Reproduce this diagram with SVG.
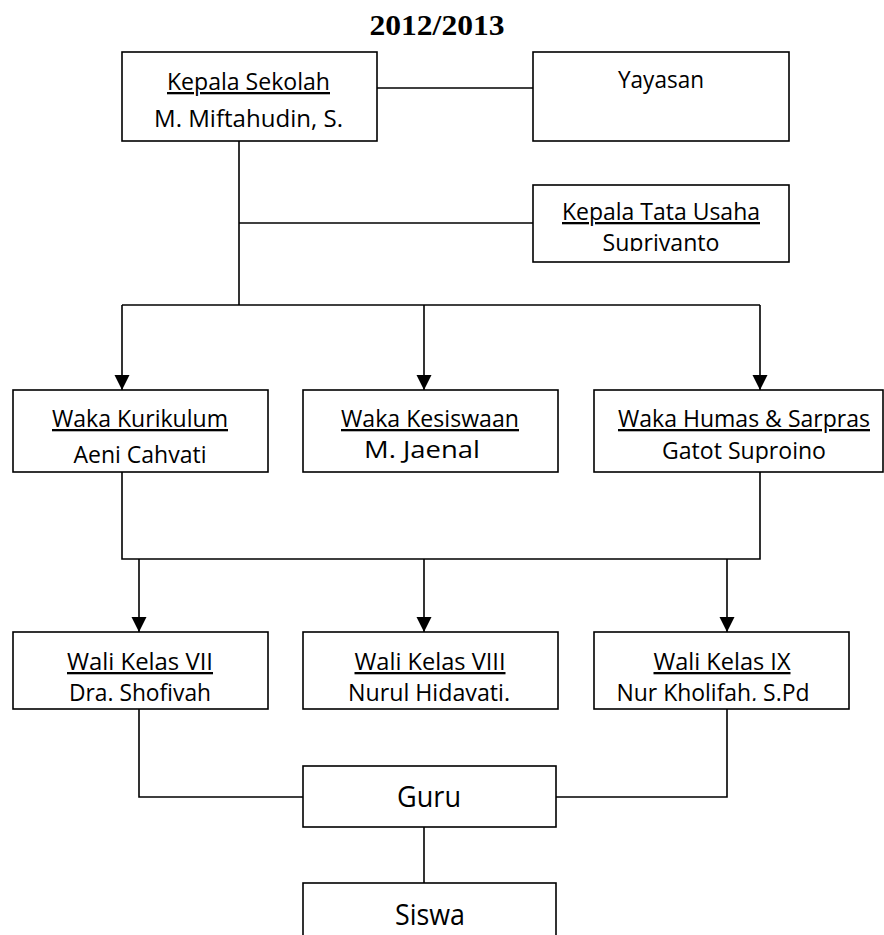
<svg xmlns="http://www.w3.org/2000/svg" width="884" height="935" viewBox="0 0 884 935">
<style>
.box{fill:#fff;stroke:#000;stroke-width:1.6}
.ln{fill:none;stroke:#000;stroke-width:1.6}
.t{font-family:"Open Sans","Liberation Sans",sans-serif;font-size:23px;fill:#000;text-anchor:middle}
.u{text-decoration:underline}
.big{font-size:29px}
.title{font-family:"Liberation Serif",serif;font-weight:bold;font-size:30px;text-anchor:middle}
</style>
<defs>
<marker id="ah" markerUnits="userSpaceOnUse" markerWidth="16" markerHeight="16" refX="15" refY="7.5" orient="auto">
<path d="M0,0 L15,7.5 L0,15 Z" fill="#000"/>
</marker>
<clipPath id="cTU"><rect x="533" y="185" width="256" height="66"/></clipPath>
<clipPath id="cW1"><rect x="13" y="390" width="255" height="73"/></clipPath>
<clipPath id="cW3"><rect x="594" y="390" width="290" height="73"/></clipPath>
<clipPath id="cL"><rect x="0" y="632" width="884" height="69"/></clipPath>
</defs>
<text class="title" x="437" y="35" textLength="135" lengthAdjust="spacingAndGlyphs">2012/2013</text>
<g id="connectors">
<path class="ln" d="M377,88 H533"/>
<path class="ln" d="M239,141 V305"/>
<path class="ln" d="M239,223 H533"/>
<path class="ln" d="M122,305 H760"/>
<path class="ln" d="M122,305 V390" marker-end="url(#ah)"/>
<path class="ln" d="M424,305 V390" marker-end="url(#ah)"/>
<path class="ln" d="M760,305 V390" marker-end="url(#ah)"/>
<path class="ln" d="M122,472 V559 H760 V472"/>
<path class="ln" d="M139,559 V632" marker-end="url(#ah)"/>
<path class="ln" d="M424,559 V632" marker-end="url(#ah)"/>
<path class="ln" d="M727,559 V632" marker-end="url(#ah)"/>
<path class="ln" d="M139,709 V797 H303"/>
<path class="ln" d="M727,709 V797 H556"/>
<path class="ln" d="M424,827 V883"/>
</g>
<g id="kepala-sekolah">
<rect class="box" x="122" y="52" width="255" height="89"/>
<text class="t u" x="248.5" y="90" textLength="163" lengthAdjust="spacingAndGlyphs">Kepala Sekolah</text>
<text class="t" x="248.5" y="127" textLength="189" lengthAdjust="spacingAndGlyphs">M. Miftahudin, S.</text>
</g>
<g id="yayasan">
<rect class="box" x="533" y="52" width="256" height="89"/>
<text class="t" x="661" y="88" textLength="86" lengthAdjust="spacingAndGlyphs">Yayasan</text>
</g>
<g id="kepala-tata-usaha">
<rect class="box" x="533" y="185" width="256" height="77"/>
<text class="t u" x="661" y="220" textLength="198" lengthAdjust="spacingAndGlyphs">Kepala Tata Usaha</text>
<text class="t" x="661" y="251" textLength="117" lengthAdjust="spacingAndGlyphs" clip-path="url(#cTU)">Supriyanto</text>
</g>
<g id="waka-kurikulum">
<rect class="box" x="13" y="390" width="255" height="82"/>
<text class="t u" x="140" y="427" textLength="176" lengthAdjust="spacingAndGlyphs">Waka Kurikulum</text>
<text class="t" x="140" y="463" textLength="133" lengthAdjust="spacingAndGlyphs" clip-path="url(#cW1)">Aeni Cahyati</text>
</g>
<g id="waka-kesiswaan">
<rect class="box" x="303" y="390" width="255" height="82"/>
<text class="t u" x="430" y="427" textLength="178" lengthAdjust="spacingAndGlyphs">Waka Kesiswaan</text>
<text class="t" x="422" y="458" textLength="116" lengthAdjust="spacingAndGlyphs">M. Jaenal</text>
</g>
<g id="waka-humas">
<rect class="box" x="594" y="390" width="289" height="82"/>
<text class="t u" x="744" y="427" textLength="252" lengthAdjust="spacingAndGlyphs">Waka Humas &amp; Sarpras</text>
<text class="t" x="744" y="459" textLength="164" lengthAdjust="spacingAndGlyphs" clip-path="url(#cW3)">Gatot Suproino</text>
</g>
<g id="wali-vii">
<rect class="box" x="13" y="632" width="255" height="77"/>
<text class="t u" x="140" y="670" textLength="146" lengthAdjust="spacingAndGlyphs">Wali Kelas VII</text>
<text class="t" x="140" y="701" textLength="142" lengthAdjust="spacingAndGlyphs" clip-path="url(#cL)">Dra. Shofiyah</text>
</g>
<g id="wali-viii">
<rect class="box" x="303" y="632" width="255" height="77"/>
<text class="t u" x="430" y="670" textLength="151" lengthAdjust="spacingAndGlyphs">Wali Kelas VIII</text>
<text class="t" x="429" y="701" textLength="162" lengthAdjust="spacingAndGlyphs" clip-path="url(#cL)">Nurul Hidayati.</text>
</g>
<g id="wali-ix">
<rect class="box" x="594" y="632" width="255" height="77"/>
<text class="t u" x="722" y="670" textLength="137" lengthAdjust="spacingAndGlyphs">Wali Kelas IX</text>
<text class="t" x="713" y="701" textLength="193" lengthAdjust="spacingAndGlyphs" clip-path="url(#cL)">Nur Kholifah, S.Pd</text>
</g>
<g id="guru">
<rect class="box" x="303" y="766" width="253" height="61"/>
<text class="t big" x="429" y="807" textLength="64" lengthAdjust="spacingAndGlyphs">Guru</text>
</g>
<g id="siswa">
<rect class="box" x="303" y="883" width="253" height="70"/>
<text class="t big" x="430" y="925" textLength="70" lengthAdjust="spacingAndGlyphs">Siswa</text>
</g>
</svg>
